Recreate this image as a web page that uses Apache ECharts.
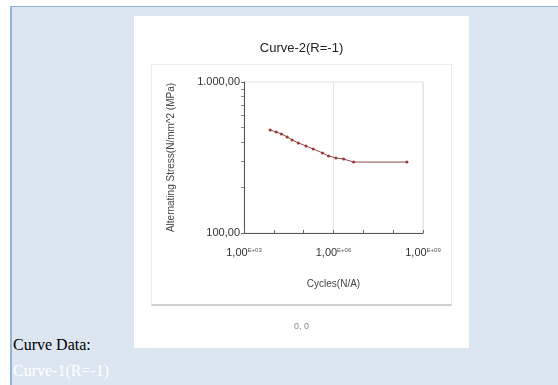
<!DOCTYPE html>
<html>
<head>
<meta charset="utf-8">
<script src="https://cdn.jsdelivr.net/npm/echarts@6/dist/echarts.min.js"></script>
<style>
  body { margin: 0; width: 558px; height: 385px; background: #fff; overflow: hidden; position: relative; }
  #panel { position: absolute; left: 10px; top: 6px; right: 0; bottom: 0; background: #dce6f1;
           border-left: 2px solid #95b3d7; border-top: 1px solid #95b3d7; }
  #box { position: absolute; left: 134px; top: 16px; width: 335px; height: 332px; background: #fff; }
  #frame { position: absolute; left: 17px; top: 48px; width: 299px; height: 239px;
           border: 1px solid #ececec; border-bottom: 2px solid #cfcfcf; }
  #sn_graph { position: absolute; left: 0; top: 0; width: 335px; height: 332px; }
  .lbl { position: absolute; left: 13px; font-family: 'Liberation Serif', serif; font-size: 16px; }
</style>
</head>
<body>
<div id="panel"></div>
<div id="box">
  <div id="frame"></div>
  <div id="sn_graph"></div>
</div>
<div class="lbl" style="top:336px;color:#000">Curve Data:</div>
<div class="lbl" style="top:362px;color:#fff">Curve-1(R=-1)</div>
<script>
// cycles and stress
var cycles = [7.5e3, 1.2e4, 1.8e4, 2.8e4, 4.1e4, 6.6e4, 1.2e5, 2.1e5, 4.3e5, 6.8e5, 1.2e6, 2.2e6, 4.7e6, 2.9e8];
var stress = [481, 467, 453, 433, 413, 395, 377, 360, 339, 324, 314, 309, 295, 295];
var xTickExp = [3, 6, 9];
var yLabels = {100: '100,00', 1000: '1.000,00'};

var points = cycles.map(function (c, i) { return [c, stress[i]]; });

var myChart = echarts.init(document.getElementById('sn_graph'));
var option = {
  animation: false,
  textStyle: { fontFamily: 'Liberation Sans' },
  title: {
    text: 'Curve-2(R=-1)', left: 'center', top: 21,
    textStyle: { fontSize: 13, fontWeight: 'normal', color: '#222', fontFamily: 'Liberation Sans' }
  },
  grid: { left: 110, right: 46, top: 66, bottom: 115, show: true, borderColor: '#e2e2e2', borderWidth: 1 },
  xAxis: [{
    type: 'log', logBase: 10, min: 1e3, max: 1e9, interval: 3, position: 'bottom',
    name: 'Cycles(N/A)', nameLocation: 'middle', nameGap: 46,
    nameTextStyle: { fontSize: 10, color: '#444' },
    axisLine: { lineStyle: { color: '#555' } },
    axisTick: { show: false },
    splitLine: { show: true, lineStyle: { color: '#e4e4e4' } },
    axisLabel: {
      margin: 14,
      formatter: function (v) {
        var e = Math.round(Math.log10(v));
        if (xTickExp.indexOf(e) < 0) return '';
        return '{a|1,00}{b|E+0' + e + '}';
      },
      rich: {
        a: { fontSize: 11, color: '#333' },
        b: { fontSize: 6, color: '#555', verticalAlign: 'top', padding: [0, 0, 4, 0] }
      }
    }
  }, {
    type: 'log', logBase: 10, min: 1e3, max: 1e9, interval: 1, position: 'bottom',
    axisLine: { show: false },
    axisTick: { show: true, inside: true, length: 3, lineStyle: { color: '#666' } },
    axisLabel: { show: false },
    splitLine: { show: false }
  }],
  yAxis: {
    type: 'log', logBase: 10, min: 100, max: 1000, interval: 1,
    name: 'Alternating Stress(N/mm^2 (MPa)', nameLocation: 'middle', nameGap: 68, nameRotate: 90,
    nameTextStyle: { fontSize: 10, color: '#444' },
    axisLine: { show: true, lineStyle: { color: '#555' } },
    axisTick: { show: true, length: 3, lineStyle: { color: '#666' } },
    minorTick: { show: true, splitNumber: 9, length: 3, lineStyle: { color: '#888' } },
    splitLine: { show: false },
    axisLabel: {
      margin: 4, fontSize: 11, color: '#333',
      formatter: function (v) { return yLabels[Math.round(v)] || ''; }
    }
  },
  graphic: [{
    type: 'text', left: 160, top: 306,
    style: { text: '0, 0', fontSize: 9, fill: '#888', fontFamily: 'Liberation Sans' }
  }],
  series: [{
    type: 'line', data: points,
    symbol: 'circle', symbolSize: 3,
    lineStyle: { color: '#8a4a4a', width: 1 },
    itemStyle: { color: '#a03535' }
  }]
};
myChart.setOption(option);
</script>
</body>
</html>
